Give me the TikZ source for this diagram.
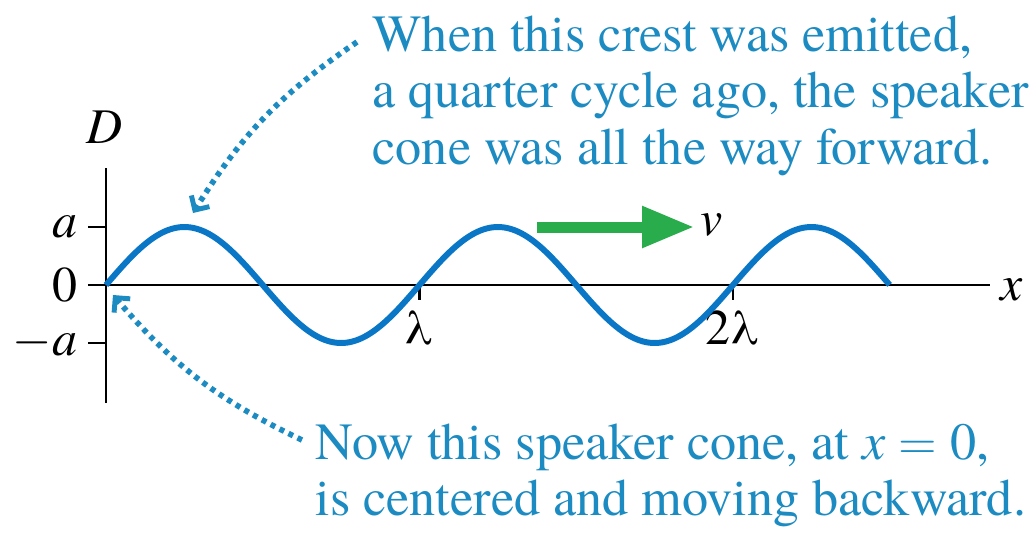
\documentclass[tikz,border=0pt]{standalone}
\usepackage{fontspec}
\setmainfont{texgyretermes}[Extension=.otf, UprightFont=*-regular, ItalicFont=*-italic, BoldFont=*-bold]
\usepackage{xcolor}
\usetikzlibrary{arrows.meta,positioning}

\definecolor{notecol}{RGB}{27,139,194}
\definecolor{wavecol}{RGB}{10,118,198}
\definecolor{velcol}{RGB}{40,172,76}

\tikzset{
  axis/.style={draw=black, line width=0.7pt},
  wave/.style={draw=wavecol, line width=1.7pt},
  lbl/.style={font=\rmfamily\fontsize{14.2}{16}\selectfont, inner sep=0.1cm},
  note/.style={font=\rmfamily\fontsize{14.85}{16.1}\selectfont, text=notecol, align=left, inner sep=0pt, anchor=north west},
  pointer/.style={draw=notecol, line width=1.6pt, dash pattern=on 0.05cm off 0.05cm,
    -{Straight Barb[angle=90:0.15cm, line width=1.4pt]}},
  vel/.style={draw=velcol, line width=0.11cm, -{Triangle[length=0.52cm,width=0.39cm]}}
}

\begin{document}
\begin{tikzpicture}
  \useasboundingbox (-1.06,-2.48) rectangle (9.26,2.85);
  % axes
  \coordinate (o) at (0,0);
  \coordinate (crest) at (0.78,0.58);
  \draw[axis] (0,-1.18) -- (0,1.17);
  \draw[axis] (-0.18,0) -- (8.84,0);
  \draw[axis] (-0.18,0.58) -- (0,0.58);
  \draw[axis] (-0.18,-0.58) -- (0,-0.58);
  \draw[axis] (3.135,0) -- (3.135,-0.15);
  \draw[axis] (6.27,0) -- (6.27,-0.15);
  \node[lbl, left] (la) at (-0.18,0.58) {\textit{a}};
  \node[lbl, left] (l0) at (-0.18,0) {0};
  \node[lbl, left] (lma) at (-0.18,-0.58) {$-$\textit{a}};
  \node[lbl] (dlab) at (-0.01,1.58) {\textit{D}};
  \node[lbl, right] (xlab) at (8.84,-0.05) {\textit{x}};
  \node[lbl, below] (l1) at (3.135,-0.15) {λ};
  \node[lbl, below] (l2) at (6.27,-0.15) {2λ};
  % the wave
  \draw[wave] plot[domain=0:7.8375, samples=160, smooth] (\x,{0.58*sin(\x*360/3.135)});
  % speed
  \coordinate (vtail) at (4.31,0.58);
  \node[lbl, inner sep=0.06cm] (v) at (6.06,0.6) {\textit{v}};
  \draw[vel] (vtail) -- (v.west |- vtail);
  % notes
  \node[note] (emit) at (2.66,2.70) {When this crest was emitted,\\a quarter cycle ago, the speaker\\cone was all the way forward.};
  \node[note] (now) at (2.09,-1.38) {Now this speaker cone, at \textit{x} $=$ 0,\\is centered and moving backward.};
  \draw[pointer] ([shift={(-0.15,-0.27)}]emit.north west) to[bend right=12] ([shift={(0.09,0.14)}]crest);
  \draw[pointer] ([shift={(-0.13,-0.17)}]now.north west) to[bend left=12] ([shift={(0.07,-0.1)}]o);
\end{tikzpicture}
\end{document}
